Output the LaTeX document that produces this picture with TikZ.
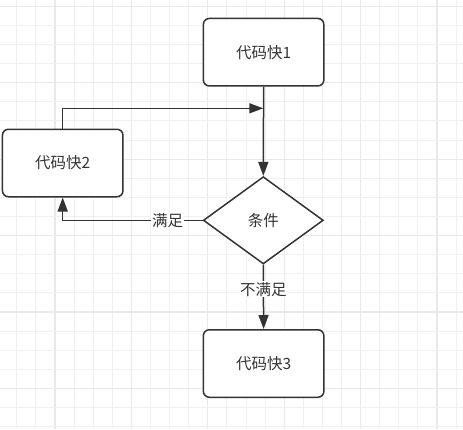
\documentclass[tikz,border=0pt]{standalone}
\usepackage{fontspec}
\setmainfont{Noto Sans CJK SC}
\usetikzlibrary{arrows.meta,shapes.geometric}
\definecolor{ink}{RGB}{51,51,51}
\definecolor{gridminor}{RGB}{240,240,240}
\definecolor{gridmajor}{RGB}{233,233,233}
\begin{document}
\begin{tikzpicture}[x=1pt,y=-1pt,
  txt/.style={font=\fontsize{15.5}{18}\selectfont, text=ink},
  box/.style={txt, draw=ink, line width=1.5pt, rounded corners=6pt, fill=white,
    minimum width=120.5pt, minimum height=67.5pt, inner sep=0pt},
  cond/.style={txt, draw=ink, line width=1.5pt, diamond, fill=white,
    minimum width=120pt, minimum height=87.3pt, inner sep=0pt},
  conn/.style={draw=ink, line width=1.5pt, -{Triangle[length=14pt,width=10pt]}},
  lbl/.style={txt, fill=white, inner sep=1pt}]
\fill[white] (0,0) rectangle (463,429);
\useasboundingbox (0,0) rectangle (463,429);
% grid
\foreach \i in {0,...,23} {
  \pgfmathsetmacro{\gx}{16.8+19.1*\i}
  \pgfmathtruncatemacro{\mj}{mod(\i+2,4)==0 ? 1 : 0}
  \ifnum\mj=1
    \draw[gridmajor, line width=1.2pt] (\gx,0) -- (\gx,429);
  \else
    \draw[gridminor, line width=1pt] (\gx,0) -- (\gx,429);
  \fi
}
\foreach \i in {0,...,22} {
  \pgfmathsetmacro{\gy}{6.3+19.1*\i}
  \pgfmathtruncatemacro{\mj}{mod(\i,4)==0 ? 1 : 0}
  \ifnum\mj=1
    \draw[gridmajor, line width=1.2pt] (0,\gy) -- (463,\gy);
  \else
    \draw[gridminor, line width=1pt] (0,\gy) -- (463,\gy);
  \fi
}
% nodes
\node[box] (b1) at (263.6,52.2) {代码快1};
\node[box] (b2) at (62.7,163) {代码快2};
\node[cond] (d) at (263.3,220.3) {条件};
\node[box] (b3) at (263.6,363.5) {代码快3};
\coordinate (j) at (263.3,108.3);
% connectors
\draw[conn] (b1.south) -- (d.north);
\draw[conn] (b2.north) |- (j);
\draw[conn] (d.west) -| node[lbl, pos=0.125] {满足} (b2.south);
\draw[conn] (d.south) -- node[lbl, pos=0.38] {不满足} (b3.north);
\end{tikzpicture}
\end{document}
